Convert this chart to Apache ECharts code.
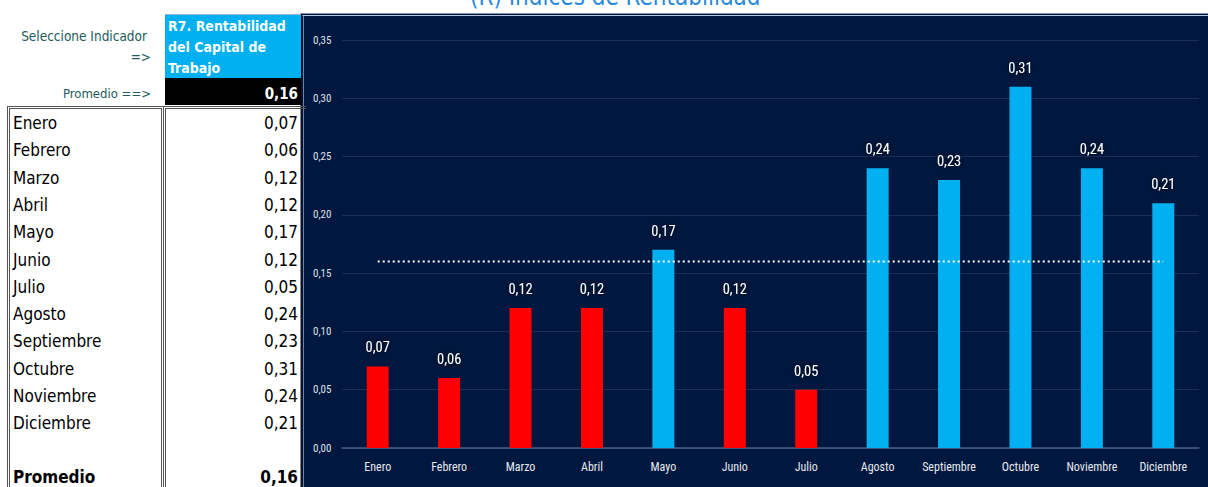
<!DOCTYPE html>
<html>
<head>
<meta charset="utf-8">
<script src="https://cdn.jsdelivr.net/npm/echarts@6/dist/echarts.min.js"></script>
<style>
  html, body { margin: 0; padding: 0; background: #ffffff; }
  #page { position: relative; width: 1208px; height: 487px; overflow: hidden; }
  #chart { position: absolute; left: 0; top: 0; width: 1208px; height: 487px; }
  #table { position: absolute; left: 0; top: 0; width: 302px; height: 487px; font-family: "DejaVu Sans Condensed", "DejaVu Sans", sans-serif; }
  .hdr { position: absolute; color: #215A5A; font-size: 13.5px; text-align: right; white-space: nowrap; }
  .cell { position: absolute; white-space: nowrap; line-height: 1; }
</style>
</head>
<body>
<div id="page">
  <div id="chart"></div>
  <div id="table"></div>
</div>
<script>
// ---- data ----
const meses = ["Enero","Febrero","Marzo","Abril","Mayo","Junio","Julio","Agosto","Septiembre","Octubre","Noviembre","Diciembre"];
const valores = [0.07,0.06,0.12,0.12,0.17,0.12,0.05,0.24,0.23,0.31,0.24,0.21];
const promedio = 0.16;
const indicador = ["R7. Rentabilidad", "del Capital de", "Trabajo"];
const titulo = "(R) Índices de Rentabilidad";
const yTicks = { min: 0, max: 0.35, interval: 0.05 };

const fmt = v => v.toFixed(2).replace('.', ',');

// ---- left spreadsheet table ----
const t = document.getElementById('table');
function add(html, style, cls) {
  const d = document.createElement('div');
  d.className = cls || 'cell';
  d.innerHTML = html;
  Object.assign(d.style, style);
  t.appendChild(d);
  return d;
}
add('Seleccione Indicador', { right: (302-147)+'px', top: '28px' }, 'hdr');
add('=&gt;', { right: (302-151)+'px', top: '49px' }, 'hdr');
add('Promedio ==&gt;', { right: (302-151)+'px', top: '86px', fontSize: '13px' }, 'hdr');

// blue header cell
add('', { left: '165px', top: '14px', width: '136px', height: '64px', background: '#00B0F0', borderTop: '1px solid #9fb4cf' });
indicador.forEach((s, i) => add(s, { left: '168px', top: (19 + i*21)+'px', color: '#ffffff', fontWeight: 'bold', fontSize: '14px' }));
// black promedio cell
add('', { left: '165px', top: '78px', width: '136px', height: '27px', background: '#000000' });
add(fmt(promedio), { right: (302-298)+'px', top: '87px', color: '#ffffff', fontWeight: 'bold', fontSize: '15px' });

// boxes
add('', { left: '7px', top: '106px', width: '151px', height: '400px', border: '3px double #555', boxSizing: 'content-box' });
add('', { left: '163px', top: '106px', width: '140px', height: '400px', border: '3px double #555', borderRight: 'none' });

meses.forEach((m, i) => {
  const cy = 124 + i * 27.3;
  add(m, { left: '13px', top: (cy - 9) + 'px', fontSize: '17px', color: '#000' });
  add(fmt(valores[i]), { right: (302-298)+'px', top: (cy - 9) + 'px', fontSize: '17px', color: '#000' });
});
add('Promedio', { left: '13px', top: '469px', fontSize: '17px', fontWeight: 'bold', color: '#000' });
add(fmt(promedio), { right: (302-298)+'px', top: '469px', fontSize: '17px', fontWeight: 'bold', color: '#000' });

// ---- chart ----
const chart = echarts.init(document.getElementById('chart'), null, { renderer: 'svg' });
const narrow = '"Liberation Sans Narrow", "Roboto Condensed", "DejaVu Sans Condensed", sans-serif';
const option = {
  animation: false,
  backgroundColor: 'transparent',
  graphic: [
    { type: 'rect', z: -10, shape: { x: 302, y: 14, width: 906, height: 473 }, style: { fill: '#00173F' } },
    { type: 'line', z: -9, shape: { x1: 300, y1: 13.5, x2: 1208, y2: 13.5 }, style: { stroke: '#7f93b8', lineWidth: 1 } },
    { type: 'line', z: -9, shape: { x1: 300, y1: 15.5, x2: 1208, y2: 15.5 }, style: { stroke: '#b7c4da', lineWidth: 1 } },
    { type: 'line', z: -9, shape: { x1: 301.5, y1: 14, x2: 301.5, y2: 487 }, style: { stroke: '#0b1024', lineWidth: 2 } },
    { type: 'line', z: -9, shape: { x1: 303.5, y1: 16, x2: 303.5, y2: 487 }, style: { stroke: '#6f82a8', lineWidth: 1 } },
    { type: 'text', left: 470, top: -15, style: { text: titulo, fill: '#2A8ADB', font: '24px "DejaVu Sans Condensed", "DejaVu Sans", sans-serif' } }
  ],
  grid: { left: 342, right: 9, top: 40, bottom: 39, containLabel: false },
  xAxis: {
    type: 'category',
    data: meses,
    boundaryGap: true,
    axisLine: { lineStyle: { color: '#4C5E82', width: 1.5 } },
    axisTick: { show: false },
    axisLabel: { color: '#E6E9EF', fontSize: 12, fontFamily: narrow, margin: 13, interval: 0 }
  },
  yAxis: {
    type: 'value',
    min: yTicks.min, max: yTicks.max, interval: yTicks.interval,
    axisLine: { show: false },
    axisTick: { show: false },
    splitLine: { lineStyle: { color: '#1C2E58', width: 1 } },
    axisLabel: { color: '#DDE2EA', fontSize: 11, fontFamily: narrow, margin: 29, align: 'left', formatter: v => fmt(v) }
  },
  series: [
    {
      type: 'bar',
      data: valores,
      barWidth: 22,
      itemStyle: { color: p => (p.value < promedio ? '#FF0000' : '#00B0F0') },
      label: {
        show: true, position: 'top', distance: 11,
        color: '#FFFFFF', fontSize: 14.5, fontFamily: narrow,
        textShadowColor: 'rgba(0,0,0,0.9)', textShadowBlur: 6,
        formatter: p => fmt(p.value)
      },
      z: 2
    },
    {
      type: 'line',
      data: meses.map(() => promedio),
      symbol: 'none',
      lineStyle: { color: '#FFFFFF', width: 2, type: [2, 3] },
      z: 5,
      silent: true
    }
  ]
};
chart.setOption(option);
</script>
</body>
</html>
